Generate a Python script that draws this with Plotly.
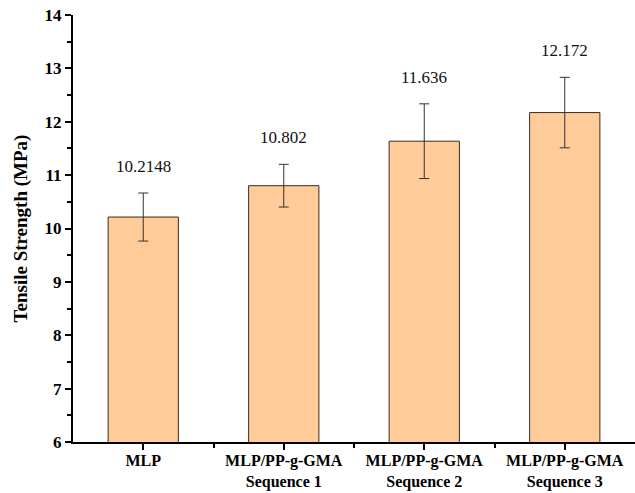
import plotly.graph_objects as go

categories = ["MLP", "MLP/PP-g-GMA<br>Sequence 1", "MLP/PP-g-GMA<br>Sequence 2", "MLP/PP-g-GMA<br>Sequence 3"]
strength = [10.2148, 10.802, 11.636, 12.172]
errors = [0.45, 0.40, 0.70, 0.66]
labels = ["10.2148", "10.802", "11.636", "12.172"]
y_ticks = [6, 7, 8, 9, 10, 11, 12, 13, 14]

xs = list(range(len(categories)))
font_family = "Liberation Serif, Times New Roman, serif"

fig = go.Figure()
fig.add_trace(go.Bar(
    x=xs, y=strength, width=0.5,
    marker=dict(color="#FFCC99", line=dict(color="#3b2a1a", width=1)),
    error_y=dict(type="data", array=errors, visible=True, color="#333333", thickness=1, width=5),
))

for x, v, e, t in zip(xs, strength, errors, labels):
    fig.add_annotation(x=x, y=v + e, text=t, showarrow=False, yanchor="bottom", yshift=15,
                       font=dict(family=font_family, size=17, color="#111111"))

fig.update_layout(
    width=635, height=493,
    margin=dict(l=73, r=0, t=15, b=51),
    plot_bgcolor="white", paper_bgcolor="white",
    showlegend=False,
    font=dict(family=font_family, color="black"),
)
fig.update_xaxes(
    range=[-0.5, 3.5], tickvals=xs, ticktext=["<b>%s</b>" % c.replace("<br>", "</b><br><b>") for c in categories],
    ticks="outside", ticklen=6, tickwidth=1.5, tickcolor="black", automargin=False,
    ticklabelstandoff=-3,
    minor=dict(tickvals=[0.5, 1.5, 2.5], ticks="outside", ticklen=4, tickwidth=1.5, tickcolor="black"),
    showline=True, linecolor="black", linewidth=2, mirror=False, showgrid=False, zeroline=False,
    tickfont=dict(family=font_family, size=16, color="black"),
)
fig.update_yaxes(
    range=[6, 14], tickvals=y_ticks, ticktext=["<b>%d</b>" % v for v in y_ticks],
    ticks="outside", ticklen=6, tickwidth=1.5, tickcolor="black", automargin=False,
    minor=dict(dtick=0.5, tick0=6.5, ticks="outside", ticklen=4, tickwidth=1.5, tickcolor="black"),
    showline=True, linecolor="black", linewidth=2, showgrid=False, zeroline=False,
    tickfont=dict(family=font_family, size=17, color="black"),
    title=dict(text="<b>Tensile Strength (MPa)</b>", font=dict(family=font_family, size=19, color="black"), standoff=12),
)

fig.write_html("out.html", config={"displayModeBar": False},
               post_script="document.body.style.margin='0';")
